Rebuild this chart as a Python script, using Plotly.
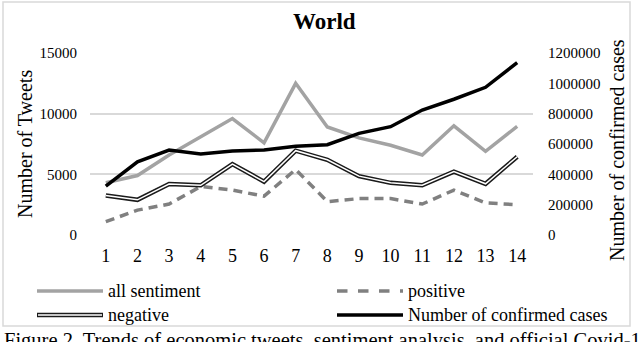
import plotly.graph_objects as go

# values
weeks = [1, 2, 3, 4, 5, 6, 7, 8, 9, 10, 11, 12, 13, 14]
all_sentiment = [4300, 4900, 6600, 8100, 9600, 7600, 12500, 8900, 8000, 7400, 6600, 9000, 6900, 8950]
positive = [1100, 2050, 2550, 4000, 3700, 3200, 5400, 2750, 3000, 3000, 2550, 3700, 2650, 2500]
negative = [3250, 2900, 4200, 4100, 5850, 4400, 6950, 6200, 4850, 4300, 4100, 5220, 4220, 6450]
confirmed = [322000, 483000, 560000, 534000, 554000, 560000, 585000, 595000, 670000, 714000, 824000, 895000, 974000, 1136000]

W, H = 640, 342
L, R, T, B = 90, 107, 53, 107
FONT = "Liberation Serif"


def px(x):
    return (x - L) / (W - L - R)


def py(y):
    return (H - B - y) / (H - T - B)


fig = go.Figure()
fig.add_trace(go.Scatter(x=weeks, y=all_sentiment, mode="lines", name="all sentiment",
                         line=dict(color="#a3a3a3", width=3.5)))
fig.add_trace(go.Scatter(x=weeks, y=positive, mode="lines", name="positive",
                         line=dict(color="#808080", width=3.5, dash="9px,6px")))
fig.add_trace(go.Scatter(x=weeks, y=negative, mode="lines", name="negative",
                         line=dict(color="#1a1a1a", width=4.5)))
fig.add_trace(go.Scatter(x=weeks, y=negative, mode="lines", showlegend=False,
                         line=dict(color="white", width=1.5)))
fig.add_trace(go.Scatter(x=weeks, y=confirmed, mode="lines", name="Number of confirmed cases",
                         yaxis="y2", line=dict(color="black", width=3.5)))

# legend drawn by hand (long Excel-style samples)
legend_rows = [
    ("all sentiment", 37, 291, dict(color="#a3a3a3", width=3.5), None),
    ("positive", 337, 291, dict(color="#808080", width=3.5, dash="dash"), None),
    ("negative", 37, 315, dict(color="#1a1a1a", width=4.5), dict(color="white", width=1.5)),
    ("Number of confirmed cases", 337, 315, dict(color="black", width=3.5), None),
]
shapes = [dict(type="rect", xref="paper", yref="paper", x0=px(3), x1=px(630), y0=py(2), y1=py(326),
               line=dict(color="#d9d9d9", width=1.5), layer="below")]
annotations = []
for label, x0, y0, ln, inner in legend_rows:
    shapes.append(dict(type="line", xref="paper", yref="paper", x0=px(x0), x1=px(x0 + 66),
                       y0=py(y0), y1=py(y0), line=ln))
    if inner:
        shapes.append(dict(type="line", xref="paper", yref="paper", x0=px(x0 + 1), x1=px(x0 + 65),
                           y0=py(y0), y1=py(y0), line=inner))
    annotations.append(dict(text=label, xref="paper", yref="paper", x=px(x0 + 69), y=py(y0),
                            xanchor="left", yanchor="middle", showarrow=False,
                            font=dict(size=18, color="black")))

annotations += [
    dict(text="<b>World</b>", xref="paper", yref="paper", x=px(324), y=py(22), showarrow=False,
         xanchor="center", yanchor="middle", font=dict(size=23, color="black")),
    dict(text="Number of Tweets", xref="paper", yref="paper", x=px(25), y=py(144), textangle=-90,
         showarrow=False, xanchor="center", yanchor="middle", font=dict(size=20, color="black")),
    dict(text="Number of confirmed cases", xref="paper", yref="paper", x=px(617), y=py(150),
         textangle=-90, showarrow=False, xanchor="center", yanchor="middle",
         font=dict(size=20, color="black")),
    # figure caption, cut by the bottom edge as in the source
    dict(text="Figure 2. Trends of economic tweets, sentiment analysis, and official Covid-19",
         xref="paper", yref="paper", x=px(2), y=py(327), xanchor="left", yanchor="top",
         showarrow=False, font=dict(size=20.5, color="black")),
]

fig.update_layout(
    width=W, height=H,
    margin=dict(l=L, r=R, t=T, b=B),
    paper_bgcolor="white", plot_bgcolor="white",
    font=dict(family=FONT, color="black"),
    showlegend=False,
    xaxis=dict(type="linear", range=[0.5, 14.5], tickvals=weeks, ticktext=[str(w) for w in weeks],
               showgrid=False, zeroline=False, showline=False, ticks="", automargin=False,
               ticklabelstandoff=8, tickfont=dict(size=18, color="black")),
    yaxis=dict(range=[0, 15000], dtick=5000, tickformat="d", showgrid=True, gridcolor="#d9d9d9",
               gridwidth=1.5, zeroline=False, showline=False, ticks="", automargin=False,
               ticklabelstandoff=12, tickfont=dict(size=15, color="black")),
    yaxis2=dict(range=[0, 1200000], dtick=200000, tickformat="d", overlaying="y", side="right",
                showgrid=False, zeroline=False, showline=False, ticks="", automargin=False,
                ticklabelstandoff=14, tickfont=dict(size=15, color="black")),
    shapes=shapes,
    annotations=annotations,
)

# the page's default body margin would push the chart 8px right and down
fig.write_html("out.html", config={"displayModeBar": False},
               post_script="document.body.style.margin = '0';")
